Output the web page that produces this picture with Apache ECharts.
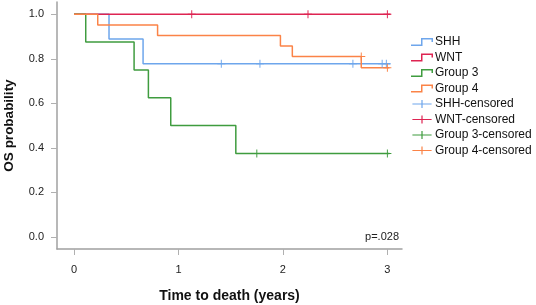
<!DOCTYPE html>
<html lang="en">
<head>
  <meta charset="UTF-8">
  <title>OS probability</title>
  <script src="https://cdn.jsdelivr.net/npm/echarts@6.0.0/dist/echarts.min.js"></script>
  <style>
    body { margin: 0; padding: 0; background: #fff; }
    #chart { width: 536px; height: 305px; }
  </style>
</head>
<body>
  <div id="chart"></div>
  <script>
    // Kaplan-Meier steps
    var shhTimes = [0, 0.335, 0.661, 3.03];
    var shhSurv = [1, 0.889, 0.778, 0.778];
    var wntTimes = [0, 3.03];
    var wntSurv = [1, 1];
    var g3Times = [0, 0.112, 0.575, 0.712, 0.926, 1.549, 3.02];
    var g3Surv = [1, 0.875, 0.75, 0.625, 0.5, 0.375, 0.375];
    var g4Times = [0, 0.227, 0.80, 1.976, 2.09, 2.75, 3.02];
    var g4Surv = [1, 0.952, 0.905, 0.857, 0.81, 0.76, 0.76];

    // censored marks
    var shhCensT = [1.41, 1.78, 2.67, 2.95, 2.99];
    var shhCensS = [0.778, 0.778, 0.778, 0.778, 0.778];
    var wntCensT = [1.127, 2.24, 3.0];
    var wntCensS = [1, 1, 1];
    var g3CensT = [1.75, 3.0];
    var g3CensS = [0.375, 0.375];
    var g4CensT = [2.75, 3.0];
    var g4CensS = [0.81, 0.76];

    var xTicks = [0, 1, 2, 3];
    var yTicks = [0, 0.2, 0.4, 0.6, 0.8, 1.0];

    var colors = {
      'SHH': '#6ea6ec',
      'WNT': '#de2452',
      'Group 3': '#3f9c3f',
      'Group 4': '#fb8347'
    };

    var stepIcon = 'path://M0,6.5H10V0H22V4H20.5V1.5H11.5V8H0Z';
    var plusIcon = 'path://M0,4.25H11.25V0H12.75V4.25H24V5.75H12.75V10H11.25V5.75H0Z';
    var markSymbol = 'path://M0,4.4H4.4V0H5.6V4.4H10V5.6H5.6V10H4.4V5.6H0Z';

    function zip(a, b) {
      return a.map(function (v, i) { return [v, b[i]]; });
    }

    function stepSeries(name, t, s) {
      return {
        name: name,
        type: 'line',
        step: 'end',
        data: zip(t, s),
        symbol: 'none',
        lineStyle: { width: 1.5, color: colors[name] },
        itemStyle: { color: colors[name] },
        z: 2
      };
    }

    function censSeries(group, t, s) {
      return {
        name: group + '-censored',
        type: 'scatter',
        data: zip(t, s),
        symbol: markSymbol,
        symbolSize: [8, 8],
        itemStyle: { color: colors[group], opacity: 1 },
        z: 3
      };
    }

    var chart = echarts.init(document.getElementById('chart'));

    var legendNames = ['SHH', 'WNT', 'Group 3', 'Group 4'];
    var legendData = legendNames.map(function (n) {
      return { name: n, icon: stepIcon, itemStyle: { color: colors[n], borderWidth: 0 } };
    }).concat(legendNames.map(function (n) {
      return { name: n + '-censored', icon: plusIcon, itemStyle: { color: colors[n], borderWidth: 0 } };
    }));

    chart.setOption({
      animation: false,
      grid: { left: 57, top: 2, right: 134, bottom: 56, containLabel: false, outerBoundsMode: 'none' },
      legend: {
        orient: 'vertical',
        left: 406,
        top: 31,
        itemWidth: 24,
        itemHeight: 8,
        itemGap: 3.5,
        data: legendData,
        textStyle: { fontFamily: 'Liberation Sans', fontSize: 12, color: '#111', padding: [0, 0, 0, -4] }
      },
      xAxis: {
        type: 'value',
        min: -0.163,
        max: 3.14,
        name: 'Time to death (years)',
        nameLocation: 'middle',
        nameGap: 40,
        nameTextStyle: { fontFamily: 'Liberation Sans', fontSize: 14, fontWeight: 'bold', color: '#111' },
        splitLine: { show: false },
        axisLine: { onZero: false, lineStyle: { color: '#a0a0a0', width: 1.5 } },
        axisTick: { customValues: xTicks, length: 6, lineStyle: { color: '#b0b0b0' } },
        axisLabel: {
          customValues: xTicks,
          margin: 15,
          fontFamily: 'Liberation Sans',
          fontSize: 11,
          color: '#222'
        }
      },
      yAxis: {
        type: 'value',
        min: -0.054,
        max: 1.055,
        name: 'OS probability',
        nameLocation: 'middle',
        nameGap: 41,
        nameTextStyle: { fontFamily: 'Liberation Sans', fontSize: 13.5, fontWeight: 'bold', color: '#111' },
        splitLine: { show: false },
        axisLine: { show: true, onZero: false, lineStyle: { color: '#a0a0a0', width: 1.5 } },
        axisTick: { show: true, customValues: yTicks, length: 6, lineStyle: { color: '#b0b0b0' } },
        axisLabel: {
          customValues: yTicks,
          margin: 13,
          fontFamily: 'Liberation Sans',
          fontSize: 11,
          color: '#222',
          formatter: function (v) { return v.toFixed(1); }
        }
      },
      graphic: [{
        type: 'text',
        right: 137,
        top: 231,
        style: { text: 'p=.028', fontFamily: 'Liberation Sans', fontSize: 11, fill: '#222' }
      }],
      series: [
        stepSeries('SHH', shhTimes, shhSurv),
        stepSeries('WNT', wntTimes, wntSurv),
        stepSeries('Group 3', g3Times, g3Surv),
        stepSeries('Group 4', g4Times, g4Surv),
        censSeries('SHH', shhCensT, shhCensS),
        censSeries('WNT', wntCensT, wntCensS),
        censSeries('Group 3', g3CensT, g3CensS),
        censSeries('Group 4', g4CensT, g4CensS)
      ]
    });
  </script>
</body>
</html>
